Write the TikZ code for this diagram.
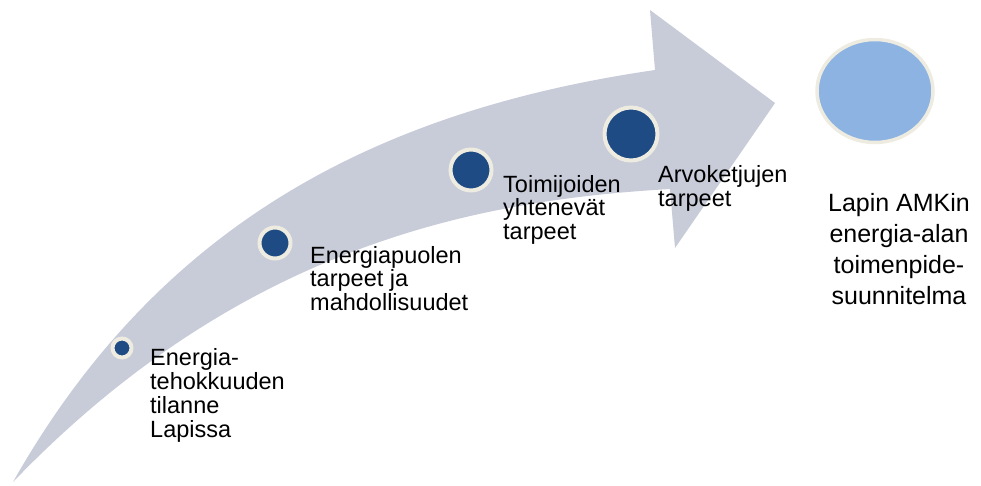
\documentclass[tikz,border=0pt]{standalone}
\usepackage{fontspec}
\setmainfont{Liberation Sans}
\usetikzlibrary{shapes.geometric}
\begin{document}
\definecolor{bandgrey}{HTML}{C8CBD8}
\definecolor{dotblue}{HTML}{1F4B84}
\definecolor{rimcream}{HTML}{EEECE1}
\definecolor{goalblue}{HTML}{8DB3E2}
\begin{tikzpicture}[x=1pt,y=-1pt,
  dot/.style={circle,fill=dotblue,draw=rimcream,line width=4pt,inner sep=0pt},
  steptext/.style={anchor=base west,align=left,inner sep=0pt,
    font=\fontsize{23.5}{23.7}\selectfont},
  goaltext/.style={anchor=base,align=center,inner sep=0pt,
    font=\fontsize{25}{31}\selectfont}]
\useasboundingbox (0,0) rectangle (981,485);
% curved, widening arrow (base of each text node = its last line)
\fill[bandgrey]
  (13,482) .. controls (160,222) and (380,110) .. (655,70)
  -- (650,10) -- (775,103) -- (675,248) -- (670,189)
  .. controls (480,200) and (242,244) .. (13,482)
  -- cycle;
% milestones along the arrow
\node[dot,minimum size=19pt] (d1) at (122,348) {};
\node[dot,minimum size=31pt] (d2) at (275,243) {};
\node[dot,minimum size=41pt] (d3) at (471,170) {};
\node[dot,minimum size=53pt] (d4) at (631,134) {};
\node[steptext] (t1) at (150,437) {Energia-\\tehokkuuden\\tilanne\\Lapissa};
\node[steptext] (t2) at (310,310.5) {Energiapuolen\\tarpeet ja\\mahdollisuudet};
\node[steptext] (t3) at (503,239.5) {Toimijoiden\\yhtenevät\\tarpeet};
\node[steptext] (t4) at (658,206.5) {Arvoketjujen\\tarpeet};
% goal
\node[ellipse,fill=goalblue,draw=rimcream,line width=3.5pt,inner sep=0pt,
  minimum width=116pt,minimum height=103pt] (goal) at (875,91) {};
\node[goaltext] (gt) at (899,304) {Lapin AMKin\\energia-alan\\toimenpide-\\suunnitelma};
\end{tikzpicture}
\end{document}
